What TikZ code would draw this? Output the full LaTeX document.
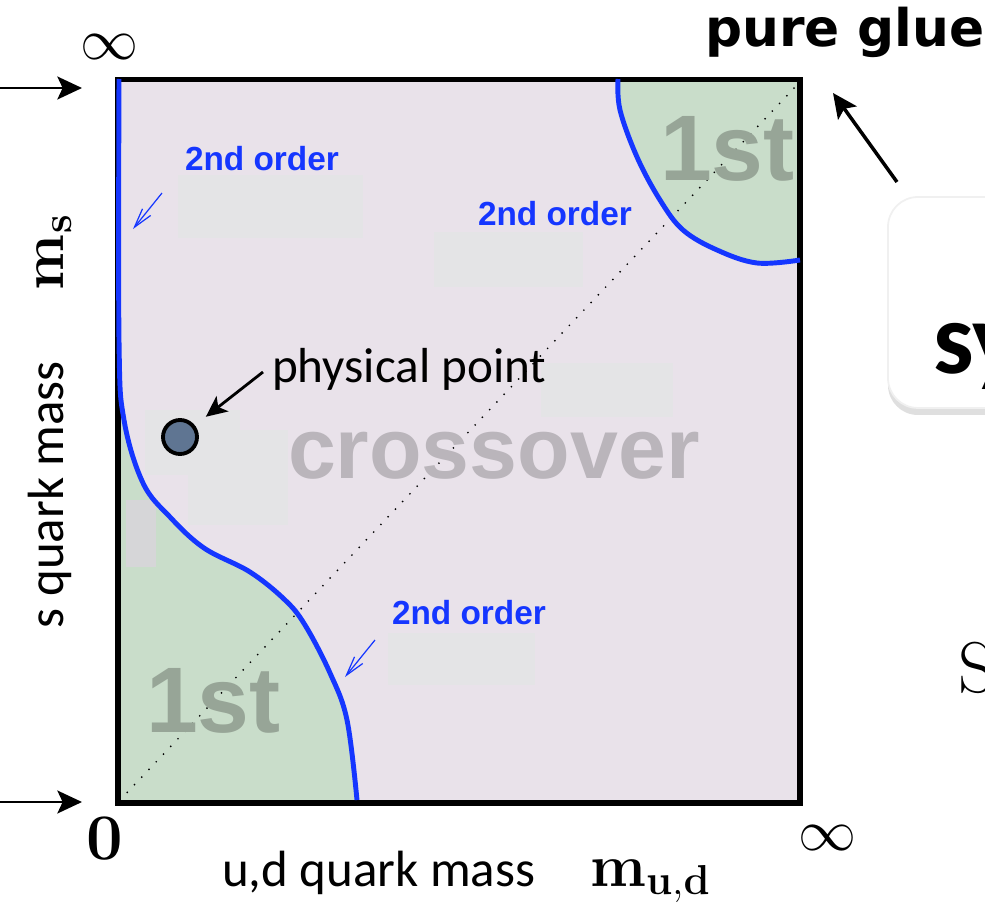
\RequirePackage{fix-cm}
\documentclass[tikz,border=0pt]{standalone}
\usepackage[no-math]{fontspec}
\setmainfont{Carlito}
\newfontfamily\arialfont{Liberation Sans}
\newfontfamily\heavyfont{DejaVu Sans}
\usetikzlibrary{arrows.meta,shadows}

\definecolor{bgmass}{HTML}{E9E2EA}
\definecolor{mossgreen}{HTML}{C9DDCA}
\definecolor{critblue}{HTML}{1536FF}
\definecolor{firstgray}{HTML}{97A597}
\definecolor{crossgray}{HTML}{BAB5BB}
\definecolor{patchgray}{HTML}{E4E4E6}
\definecolor{patchdark}{HTML}{D6D6D8}
\definecolor{ptblue}{HTML}{5F7592}

\begin{document}
\begin{tikzpicture}[x=0.02cm, y=-0.02cm,
    every node/.style={inner sep=0pt, outer sep=0pt},
    frameline/.style={line width=3.4pt, draw=black},
    crit/.style={line width=2.8pt, draw=critblue},
    diag/.style={line width=1.1pt, dash pattern=on 0pt off 6pt, line cap=round},
    ptr/.style={-{Stealth[length=14pt, width=13pt, inset=3pt]}, line width=1.7pt},
    bptr/.style={-{Straight Barb[length=11pt, width=6pt]}, line width=0.7pt, draw=critblue},
    order/.style={font=\arialfont\bfseries\fontsize{19}{19}\selectfont, text=critblue, anchor=base west},
    first/.style={font=\arialfont\bfseries\fontsize{53}{53}\selectfont, text=firstgray, anchor=base west},
    axislbl/.style={font=\fontsize{29}{29}\selectfont, anchor=base west},
    masslbl/.style={font=\fontsize{34}{34}\selectfont, anchor=base west},
  ]
  \useasboundingbox (0,0) rectangle (985,906);
  \clip (0,0) rectangle (985,906);

  % === Phase regions ===
  \fill[bgmass] (118,79) rectangle (800,803);
  \fill[mossgreen] (118,803) -- plot[smooth, tension=0.6] coordinates {(119,79) (119,340) (124,420) (143,483) (170,517) (204,548) (250,572) (285,600) (305,625) (330,673) (347,720) (357,803)} -- cycle;
  \fill[mossgreen] (800,79) -- plot[smooth, tension=0.6] coordinates {(618,79) (620,110) (637,157) (660,200) (683,230) (717,250) (757,263) (800,260)} -- cycle;

  % === Faded patches ===
  \fill[patchgray] (178,175) rectangle (363,238);
  \fill[patchgray] (434,232) rectangle (583,287);
  \fill[patchgray] (541,363) rectangle (673,417);
  \fill[patchgray] (145,410) rectangle (240,475);
  \fill[patchgray] (188,430) rectangle (288,525);
  \fill[patchgray] (388,633) rectangle (535,685);
  \fill[patchdark] (126,500) rectangle (156,567);

  % === Diagonal ===
  \coordinate (orig) at (120,800);
  \coordinate (glue corner) at (797,85);
  \draw[diag] (orig) -- (glue corner);

  % === Region labels ===
  \node[first] (first top) at (660,180) {1st};
  \node[first] (first low) at (146,732) {1st};
  \node[font=\arialfont\bfseries\fontsize{49}{49}\selectfont, text=crossgray, anchor=base west] (cross) at (288,478) {crossover};

  % === Frame and critical lines ===
  \draw[frameline] (118,79.5) rectangle (800,803);
  \draw[crit] plot[smooth, tension=0.6] coordinates {(119,79) (119,340) (124,420) (143,483) (170,517) (204,548) (250,572) (285,600) (305,625) (330,673) (347,720) (357,800)};
  \draw[crit] plot[smooth, tension=0.6] coordinates {(618,79) (620,110) (637,157) (660,200) (683,230) (717,250) (757,263) (800,260)};

  % === Second order labels ===
  \node[order] (ord left) at (185,170) {2nd order};
  \node[order] (ord right) at (478,225) {2nd order};
  \node[order] (ord low) at (392,624) {2nd order};
  \coordinate (bl tail) at (162,193);
  \coordinate (bl tip) at (133,229);
  \coordinate (bd tail) at (375,640);
  \coordinate (bd tip) at (345,677);
  \draw[bptr] (bl tail) -- (bl tip);
  \draw[bptr] (bd tail) -- (bd tip);

  % === Physical point ===
  \node[circle, draw, line width=2.2pt, fill=ptblue, minimum size=0.68cm] (pp) at (180,437) {};
  \node[font=\fontsize{28}{28}\selectfont, anchor=base west] (pplbl) at (272,382) {physical point};
  \coordinate (pptail) at (263,372);
  \draw[ptr, line width=1.6pt, -{Stealth[length=12pt, width=11pt, inset=3pt]}, shorten >=9pt] (pptail) -- (pp);

  % === Axes ===
  \node[font=\fontsize{33}{33}\selectfont] (inf top) at (109,47) {$\infty$};
  \node[font=\fontsize{33}{33}\selectfont] (inf right) at (827,838) {$\infty$};
  \node[font=\fontsize{37}{37}\selectfont] (zero) at (105,839) {$\mathbf{0}$};
  \node[axislbl] (udlbl) at (222,886) {u,d quark mass};
  \node[masslbl] (mud) at (590,886) {$\mathbf{m_{u,d}}$};
  \node[axislbl, rotate=90] (slbl) at (63,628) {s quark mass};
  \node[masslbl, rotate=90] (ms) at (63,290) {$\mathbf{m_s}$};

  \coordinate (ms tail) at (0,88);
  \coordinate (ms tip) at (82,88);
  \coordinate (mud tail) at (0,802);
  \coordinate (mud tip) at (82,802);
  \draw[ptr] (ms tail) -- (ms tip);
  \draw[ptr] (mud tail) -- (mud tip);

  % === Pure glue corner ===
  \node[font=\heavyfont\bfseries\fontsize{29.5}{29.5}\selectfont, anchor=base west] (glue) at (705,47) {pure glue};
  \coordinate (glue tail) at (897,182);
  \coordinate (glue tip) at (833,93);
  \draw[ptr, line width=2pt] (glue tail) -- (glue tip);

  % === Cut-off box ===
  \node[draw=black!6, line width=1pt, fill=white, rounded corners=17pt, minimum width=6cm, minimum height=4.22cm, anchor=north west,
        drop shadow={shadow xshift=0pt, shadow yshift=-4pt, opacity=0.25}] (symbox) at (888,197) {};
  \node[font=\bfseries\fontsize{58}{58}\selectfont, anchor=base west] (sym) at (933,373) {sy};
  \node[font=\fontsize{41}{41}\selectfont, anchor=base west] (bigS) at (958,692) {$\mathrm{S}$};

\end{tikzpicture}
\end{document}
